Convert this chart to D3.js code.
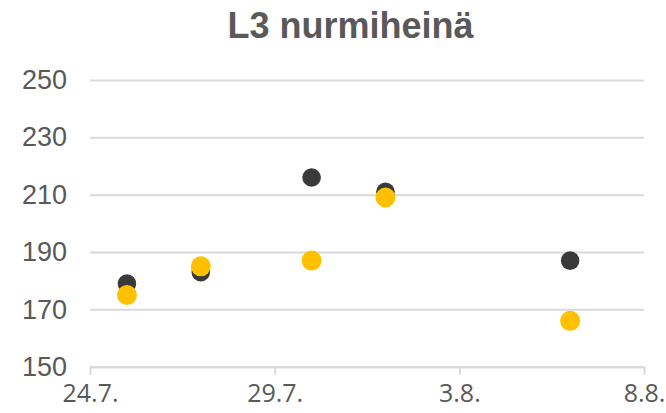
<!DOCTYPE html>
<html>
<head>
<meta charset="utf-8">
<script src="https://cdn.jsdelivr.net/npm/d3@7"></script>
<style>
  html, body { margin: 0; padding: 0; background: #ffffff; }
  svg { display: block; }
</style>
</head>
<body>
<svg id="chart" width="666" height="413"></svg>
<script>
// Measurement dates (day, month) and the two series
const dates = ["2020-07-25", "2020-07-27", "2020-07-30", "2020-08-01", "2020-08-06"];
const seriesDark = [179, 183, 216, 211, 187];
const seriesYellow = [175, 185, 187, 209, 166];

// Axis ticks
const xTicks = ["2020-07-24", "2020-07-29", "2020-08-03", "2020-08-08"];
const yTicks = [150, 170, 190, 210, 230, 250];

const title = "L3 nurmiheinä";

const parse = d3.utcParse("%Y-%m-%d");
const fmt = d3.utcFormat("%-d.%-m.");

const W = 666, H = 413;
const margin = { top: 80, right: 22, bottom: 46.3, left: 90 };
const innerW = W - margin.left - margin.right;
const innerH = H - margin.top - margin.bottom;

const svg = d3.select("#chart");

const x = d3.scaleUtc()
  .domain([parse(xTicks[0]), parse(xTicks[xTicks.length - 1])])
  .range([0, innerW]);

const y = d3.scaleLinear()
  .domain([150, 250])
  .range([innerH, 0]);

// Title
svg.append("text")
  .attr("x", 350.5)
  .attr("y", 38)
  .attr("text-anchor", "middle")
  .attr("font-family", "'Liberation Sans', Arial, sans-serif")
  .attr("font-weight", "bold")
  .attr("font-size", 36)
  .attr("fill", "#595959")
  .text(title);

const g = svg.append("g")
  .attr("transform", `translate(${margin.left},${margin.top})`);

// Horizontal gridlines with value labels on the left
const yAxis = g.append("g")
  .call(d3.axisLeft(y).tickValues(yTicks).tickSize(-innerW).tickPadding(23));
yAxis.select(".domain").remove();
yAxis.selectAll(".tick line")
  .attr("stroke", "#d9d9d9")
  .attr("stroke-width", 2);
yAxis.selectAll(".tick text")
  .attr("font-family", "'Liberation Sans', Arial, sans-serif")
  .attr("font-size", 27)
  .attr("fill", "#595959");

// Date axis along the bottom
const xAxis = g.append("g")
  .attr("transform", `translate(0,${innerH})`)
  .call(d3.axisBottom(x)
    .tickValues(xTicks.map(parse))
    .tickFormat(fmt)
    .tickSize(8)
    .tickSizeOuter(0)
    .tickPadding(10));
xAxis.select(".domain")
  .attr("stroke", "#d9d9d9")
  .attr("stroke-width", 2);
xAxis.selectAll(".tick line")
  .attr("stroke", "#d9d9d9")
  .attr("stroke-width", 2);
xAxis.selectAll(".tick text")
  .attr("font-family", "'Open Sans', sans-serif")
  .attr("font-size", 25)
  .attr("fill", "#595959");

// Scatter points: dark series first, yellow drawn over it
const darkPts = dates.map((d, i) => ({ date: parse(d), value: seriesDark[i] }));
const yellowPts = dates.map((d, i) => ({ date: parse(d), value: seriesYellow[i] }));

g.append("g").selectAll("circle")
  .data(darkPts)
  .join("circle")
  .attr("cx", d => x(d.date))
  .attr("cy", d => y(d.value))
  .attr("r", 9.3)
  .attr("fill", "#3a3a3a");

g.append("g").selectAll("circle")
  .data(yellowPts)
  .join("circle")
  .attr("cx", d => x(d.date))
  .attr("cy", d => y(d.value))
  .attr("r", 10)
  .attr("fill", "#ffc000");
</script>
</body>
</html>
